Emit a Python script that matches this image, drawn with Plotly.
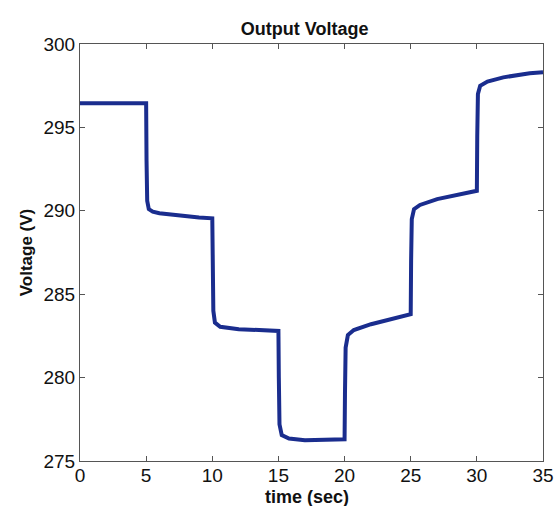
import plotly.graph_objects as go

# Output voltage response (time in seconds, voltage in volts)
time_s = [0.0, 5.0, 5.03, 5.08, 5.2, 5.5, 6.0, 7.0, 8.0, 9.0, 10.0,
          10.03, 10.08, 10.2, 10.6, 12.0, 14.0, 15.0,
          15.03, 15.08, 15.25, 15.8, 17.0, 19.0, 20.0,
          20.03, 20.08, 20.25, 20.7, 22.0, 24.0, 25.0,
          25.03, 25.08, 25.25, 25.7, 27.0, 29.0, 30.0,
          30.03, 30.08, 30.25, 30.8, 32.0, 34.0, 35.0]
voltage_v = [296.45, 296.45, 293.0, 290.6, 290.1, 289.95, 289.85, 289.75, 289.65, 289.6, 289.55,
             287.0, 284.0, 283.3, 283.05, 282.9, 282.82, 282.8,
             280.0, 277.2, 276.55, 276.35, 276.25, 276.25, 276.3,
             279.0, 281.8, 282.55, 282.85, 283.2, 283.6, 283.8,
             287.0, 289.5, 290.1, 290.35, 290.7, 291.05, 291.2,
             294.5, 297.0, 297.5, 297.75, 298.0, 298.25, 298.3]

x_ticks = [0, 5, 10, 15, 20, 25, 30, 35]
y_ticks = [275, 280, 285, 290, 295, 300]

FONT = "Liberation Sans, Arial, sans-serif"
PLOT_TOP, PLOT_BOTTOM = 44, 461

fig = go.Figure()
fig.add_trace(go.Scatter(
    x=time_s, y=voltage_v, mode="lines",
    line=dict(color="#1a2d8e", width=4),
    hoverinfo="skip",
))

axis_common = dict(
    showline=True, linecolor="#555555", linewidth=1.2, mirror="ticks",
    ticks="inside", ticklen=5, tickcolor="#555555", tickwidth=1,
    showgrid=False, zeroline=False, automargin=False,
    tickfont=dict(family=FONT, size=19, color="#111111"),
)

# x-axis title placed just below the tick labels
fig.add_annotation(
    text="<b>time (sec)</b>", xref="paper", yref="paper",
    x=0.49, y=-(497 - PLOT_BOTTOM) / (PLOT_BOTTOM - PLOT_TOP),
    xanchor="center", yanchor="middle", showarrow=False,
    font=dict(family=FONT, size=18, color="#111111"),
)

fig.update_layout(
    width=559, height=506,
    margin=dict(l=80, r=16, t=PLOT_TOP, b=506 - PLOT_BOTTOM),
    paper_bgcolor="white", plot_bgcolor="white",
    showlegend=False,
    title=dict(
        text="<b>Output Voltage</b>", x=0.545, xanchor="center",
        y=1 - 29 / 506, yanchor="middle",
        font=dict(family=FONT, size=18, color="#111111"),
    ),
    xaxis=dict(
        range=[0, 35], tickvals=x_ticks, ticktext=[str(v) for v in x_ticks],
        ticklabelstandoff=-3,
        **axis_common,
    ),
    yaxis=dict(
        range=[275, 300], tickvals=y_ticks, ticktext=[str(v) for v in y_ticks],
        title=dict(text="<b>Voltage (V)</b>", standoff=6,
                   font=dict(family=FONT, size=17, color="#111111")),
        **axis_common,
    ),
)

fig.write_html("out.html")
